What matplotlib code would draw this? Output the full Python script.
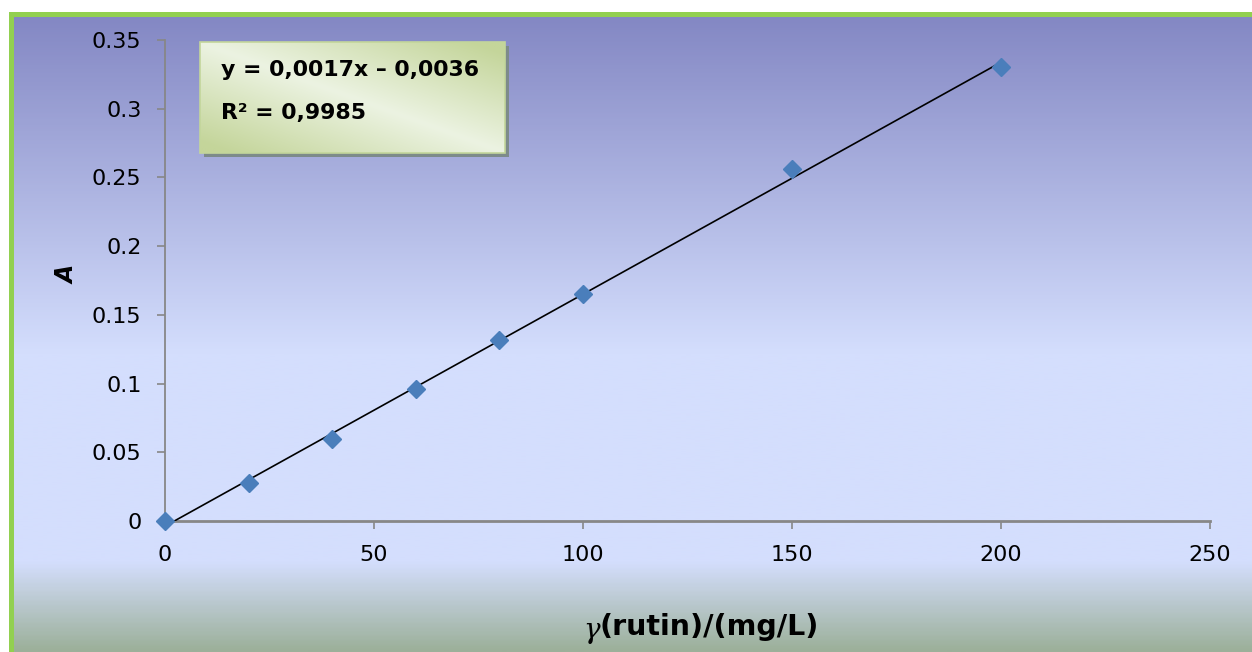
import numpy as np
import matplotlib
matplotlib.use("Agg")
import matplotlib.pyplot as plt
from matplotlib.colors import LinearSegmentedColormap, to_rgb
from matplotlib.patches import Rectangle

# ---- data ----
conc = [0, 20, 40, 60, 80, 100, 150, 200]              # gamma(rutin) / (mg/L)
absorb = [0.0, 0.028, 0.060, 0.096, 0.132, 0.165, 0.256, 0.330]  # A
x_ticks = [0, 50, 100, 150, 200, 250]
y_ticks = [0, 0.05, 0.1, 0.15, 0.2, 0.25, 0.3, 0.35]
y_tick_labels = ["0", "0.05", "0.1", "0.15", "0.2", "0.25", "0.3", "0.35"]
eq_text = "y = 0,0017x \u2013 0,0036"
r2_text = "R\u00b2 = 0,9985"

W, H = 1252, 652
fig = plt.figure(figsize=(W / 100, H / 100), dpi=100)
fig.patch.set_facecolor("white")

# ---- background (pixel coordinates) ----
bg = fig.add_axes([0, 0, 1, 1], zorder=0)
bg.set_xlim(0, W)
bg.set_ylim(H, 0)
bg.axis("off")

stops = [(0.0, "#8488c4"), (0.53, "#d4defd"), (0.86, "#d4defd"), (1.0, "#9cb09a")]
cmap = LinearSegmentedColormap.from_list("bgv", stops)
grad = np.linspace(0, 1, 400).reshape(-1, 1)
bg.imshow(grad, cmap=cmap, aspect="auto", extent=(14, W, H, 17),
          interpolation="bilinear", zorder=0)
# green frame
bg.add_patch(Rectangle((9, 12), W - 9, 5, color="#92d050", lw=0, zorder=1))
bg.add_patch(Rectangle((9, 12), 5, H - 12, color="#92d050", lw=0, zorder=1))

# equation box
bx0, by0, bx1, by1 = 200, 42, 505, 153
bg.add_patch(Rectangle((bx0 + 4, by0 + 4), bx1 - bx0, by1 - by0, color="#7d8b8a",
                       lw=0, zorder=2))
u = np.linspace(0, 1, 120)
v = np.linspace(0, 1, 60)
U, V = np.meshgrid(u, v)
t = np.clip(np.abs(U - V) * 1.1, 0, 1)
light = np.array(to_rgb("#ecf3e2"))
dark = np.array(to_rgb("#c4d59a"))
img = light[None, None, :] * (1 - t[..., None]) + dark[None, None, :] * t[..., None]
bg.imshow(img, aspect="auto", extent=(bx0, bx1, by1, by0), interpolation="bilinear",
          zorder=3)
bg.add_patch(Rectangle((bx0, by0), bx1 - bx0, by1 - by0, fill=False, ec="#c3d69b",
                       lw=1.2, zorder=4))
bg.text(221, 70, eq_text, fontsize=15.8, fontweight="bold", va="center", ha="left",
        family="DejaVu Sans", zorder=5)
bg.text(221, 113, r2_text, fontsize=15.8, fontweight="bold", va="center", ha="left",
        family="DejaVu Sans", zorder=5)
bg.set_xlim(0, W)
bg.set_ylim(H, 0)

# ---- main axes ----
ax = fig.add_axes([165 / W, 1 - 521 / H, (1210 - 165) / W, (521 - 40) / H], zorder=1)
ax.patch.set_alpha(0)
ax.set_xlim(0, 250)
ax.set_ylim(0, 0.35)

slope, intercept = np.polyfit(conc, absorb, 1)
xl = np.array([min(conc), max(conc)])
ax.plot(xl, slope * xl + intercept, color="black", lw=1.2, zorder=3)
ax.plot(conc, absorb, linestyle="none", marker="D", ms=9.2, color="#4a7ebb",
        mec="#4a7ebb", zorder=4, clip_on=False)

for s in ["top", "right"]:
    ax.spines[s].set_visible(False)
ax.spines["left"].set_color("#878787")
ax.spines["bottom"].set_color("#878787")
ax.spines["left"].set_linewidth(1.3)
ax.spines["bottom"].set_linewidth(2.0)

ax.set_xticks(x_ticks)
ax.set_xticklabels([str(v) for v in x_ticks])
ax.set_yticks(y_ticks)
ax.set_yticklabels(y_tick_labels)
ax.tick_params(axis="both", direction="out", length=6, width=1.2, color="#878787",
               labelsize=16, labelcolor="black")
ax.tick_params(axis="y", pad=11)
ax.tick_params(axis="x", pad=11)

fig.text(68 / W, 1 - 275 / H, "A", fontsize=17, fontweight="bold", style="italic",
         rotation=90, ha="center", va="center")
fig.text(583 / W, 1 - 630 / H, "\u03b3", fontsize=20, family="DejaVu Serif",
         style="italic", ha="left", va="center")
fig.text(600 / W, 1 - 627 / H, "(rutin)/(mg/L)", fontsize=20.5, fontweight="bold",
         ha="left", va="center")

fig.savefig("out.png", dpi=100)
